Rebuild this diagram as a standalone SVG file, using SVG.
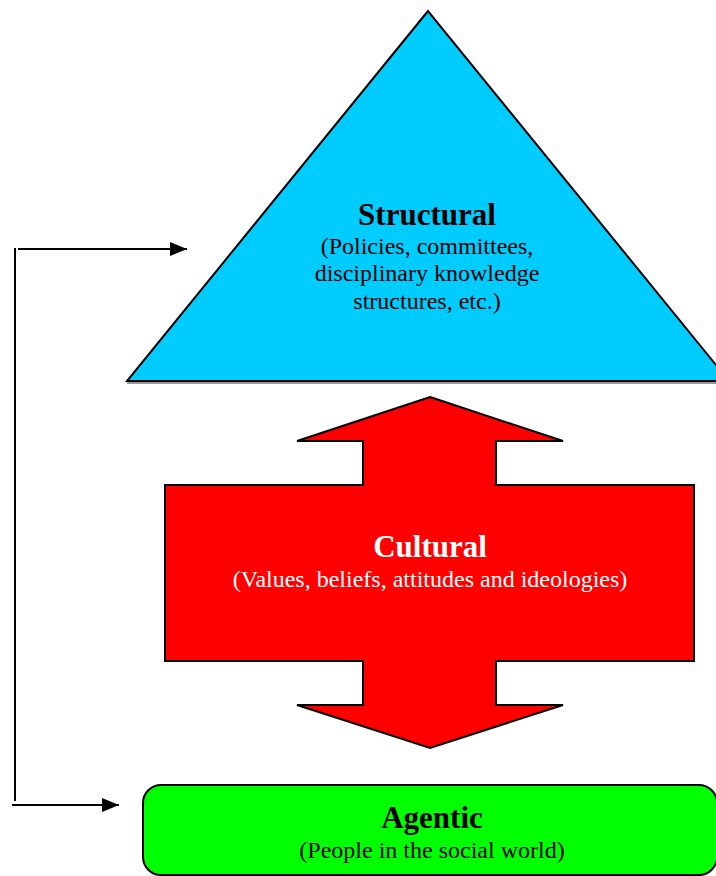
<svg xmlns="http://www.w3.org/2000/svg" width="716" height="876" viewBox="0 0 716 876">
<defs>
<style>
.shape{stroke:#000;stroke-width:2;stroke-linejoin:miter}
.title{font-family:"Liberation Serif","Times New Roman",serif;font-weight:bold;font-size:31px;text-anchor:middle}
.sub{font-family:"Liberation Serif","Times New Roman",serif;font-size:24px;text-anchor:middle}
.conn{stroke:#000;stroke-width:2;fill:none}
</style>
<marker id="arrL" markerWidth="17" markerHeight="14" refX="17" refY="7" orient="auto" markerUnits="userSpaceOnUse" viewBox="0 0 17 14">
<path d="M0,0 L17,7 L0,14 z" fill="#000"/>
</marker>
</defs>
<rect width="716" height="876" fill="#fff"/>
<g id="structural">
<line x1="127" y1="383" x2="716" y2="383" stroke="#999" stroke-width="2"/>
<polygon class="shape" points="428,11 127,381 729,381" fill="#00CCFF"/>
<text class="title" x="427" y="225">Structural</text>
<text class="sub" x="427" y="254">(Policies, committees,</text>
<text class="sub" x="427" y="281">disciplinary knowledge</text>
<text class="sub" x="427" y="309">structures, etc.)</text>
</g>
<g id="cultural">
<polygon class="shape" fill="#FF0000" points="430,397 563,441 496,441 496,485 694,485 694,661 496,661 496,705 563,705 430,748 297,705 363,705 363,661 165,661 165,485 363,485 363,441 297,441"/>
<text class="title" x="430" y="557" fill="#fff">Cultural</text>
<text class="sub" x="430" y="587" fill="#fff">(Values, beliefs, attitudes and ideologies)</text>
</g>
<g id="agentic">
<rect class="shape" x="143" y="785" width="574" height="90" rx="18" ry="18" fill="#00FF00"/>
<text class="title" x="432" y="828">Agentic</text>
<text class="sub" x="432" y="858">(People in the social world)</text>
</g>
<g id="connectors">
<line class="conn" x1="15" y1="248" x2="15" y2="801"/>
<line class="conn" x1="18" y1="249" x2="187" y2="249" marker-end="url(#arrL)"/>
<line class="conn" x1="12" y1="805" x2="119" y2="805" marker-end="url(#arrL)"/>
</g>
</svg>
